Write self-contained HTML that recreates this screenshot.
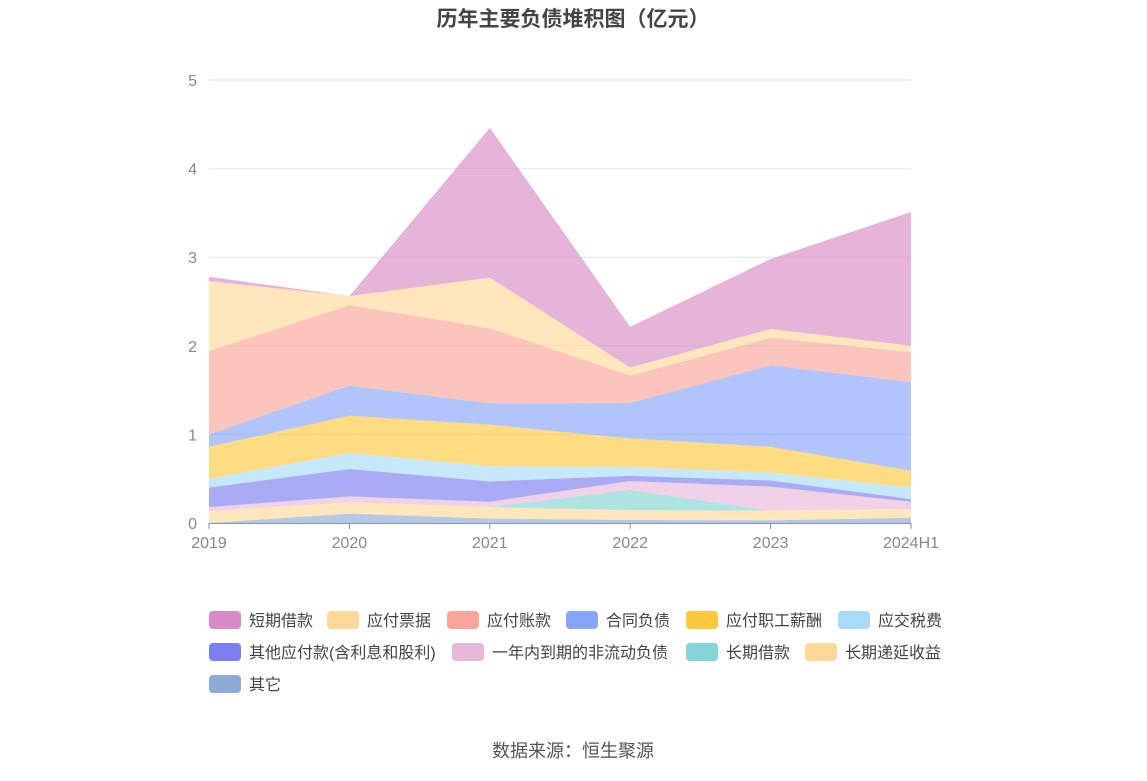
<!DOCTYPE html>
<html><head><meta charset="utf-8"><style>
body{margin:0;background:#fff;font-family:"Liberation Sans","Noto Sans CJK SC",sans-serif;}
svg text{font-family:"Liberation Sans","Noto Sans CJK SC",sans-serif;}
</style></head><body>
<svg id="c" width="1147" height="776">
<text x="573" y="26" text-anchor="middle" font-size="21" font-weight="bold" fill="#444">历年主要负债堆积图（亿元）</text>
<g id="grid"></g><g id="areas"></g><g id="axes"></g><g id="legend"></g>
<text x="573" y="757" text-anchor="middle" font-size="18" fill="#555">数据来源：恒生聚源</text>
</svg>
<script>
const categories=["2019","2020","2021","2022","2023","2024H1"];
const yTicks=[0,1,2,3,4,5];
const seriesNames=["短期借款","应付票据","应付账款","合同负债","应付职工薪酬","应交税费","其他应付款(含利息和股利)","一年内到期的非流动负债","长期借款","长期递延收益","其它"];
const s_short=[0.05,0,1.69,0.46,0.79,1.51];
const s_notes=[0.79,0.10,0.57,0.09,0.10,0.07];
const s_ap=[0.94,0.91,0.85,0.31,0.31,0.34];
const s_contract=[0.14,0.34,0.24,0.40,0.92,1.00];
const s_salary=[0.36,0.42,0.47,0.32,0.29,0.19];
const s_tax=[0.10,0.18,0.17,0.10,0.09,0.13];
const s_otherpay=[0.22,0.31,0.23,0.06,0.07,0.03];
const s_current=[0.045,0.065,0.06,0.10,0.27,0.08];
const s_longloan=[0,0,0,0.23,0,0];
const s_deferred=[0.135,0.13,0.13,0.11,0.11,0.10];
const s_other=[0,0.105,0.05,0.034,0.03,0.06];
const seriesVals=[s_short,s_notes,s_ap,s_contract,s_salary,s_tax,s_otherpay,s_current,s_longloan,s_deferred,s_other];
const colors=["#d98bc5","#ffd899","#f9a59a","#87a6fa","#ffc83d","#a6dcf7","#7b7ef0","#e8b8da","#84d6d6","#ffd899","#8eabd8"];
const NS="http://www.w3.org/2000/svg";
const x=i=>209+i*(911-209)/(categories.length-1);
const y=v=>523-v*(523-80)/5;
function mk(t,a,p){const e=document.createElementNS(NS,t);for(const k in a)e.setAttribute(k,a[k]);p.appendChild(e);return e;}
const grid=document.getElementById('grid'),axes=document.getElementById('axes'),areas=document.getElementById('areas'),legend=document.getElementById('legend');
yTicks.forEach(t=>{
 if(t>0){const l=mk('line',{x1:209,x2:911,y1:y(t),y2:y(t),stroke:'#e3e6ee','stroke-width':1},grid);
 
 }
 const tx=mk('text',{x:197,y:y(t)+6,'text-anchor':'end','font-size':16,fill:'#888'},axes);tx.textContent=t;
 
 
});
const ax=mk('line',{x1:209,x2:911,y1:523.5,y2:523.5,stroke:'#8a93a8','stroke-width':1},axes);


categories.forEach((c,i)=>{
 const tk=mk('line',{x1:x(i),x2:x(i),y1:523,y2:529,stroke:'#8a93a8'},axes);
 
 
 const tx=mk('text',{x:x(i),y:548,'text-anchor':'middle','font-size':16,fill:'#888'},axes);tx.textContent=c;
 
 
});
let base=categories.map(()=>0);
for(let s=seriesVals.length-1;s>=0;s--){
 const top=base.map((b,i)=>b+seriesVals[s][i]);
 let d='M'+top.map((v,i)=>x(i)+','+y(v)).join(' L');
 for(let i=base.length-1;i>=0;i--)d+=' L'+x(i)+','+y(base[i]);
 const p=mk('path',{d:d+'Z',fill:colors[s],'fill-opacity':0.65,stroke:'none'},areas);
 
 
 base=top;
}
const lpos=[[209,620],[327,620],[447,620],[566,620],[686,620],[838,620],[209,652],[452,652],[686,652],[805,652],[209,684]];
seriesNames.forEach((n,i)=>{
 const g=mk('g',{},legend);
 
 
 const [lx,ly]=lpos[i];
 mk('rect',{x:lx,y:ly-9,width:32,height:18,rx:4,fill:colors[i]},g);
 const t=mk('text',{x:lx+40,y:ly+6,'font-size':16,fill:'#444'},g);t.textContent=n;
});
</script>
</body></html>
